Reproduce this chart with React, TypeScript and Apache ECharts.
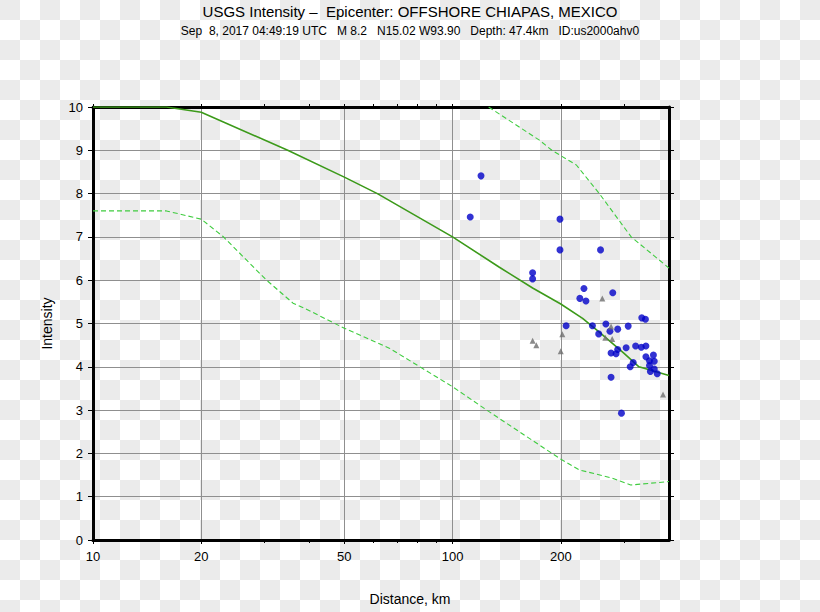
import React, { useEffect, useRef } from "react";
import * as echarts from "echarts";

const titleText = "USGS Intensity –  Epicenter: OFFSHORE CHIAPAS, MEXICO";
const subtitleText =
  "Sep  8, 2017 04:49:19 UTC   M 8.2   N15.02 W93.90   Depth: 47.4km   ID:us2000ahv0";
const xAxisTitle = "Distance, km";
const yAxisTitle = "Intensity";

const xMin = 10;
const xMax = 400;
const xMajorTicks = [10, 20, 50, 100, 200];
const xMinorTicks = [30, 40, 60, 70, 80, 90, 300];

// Median prediction (solid)
const medianDist = [10, 16, 20, 34.8, 50, 61.8, 100, 135, 167, 200, 230, 256, 300, 330, 400];
const medianInt = [10, 10, 9.88, 9.0, 8.38, 8.0, 7.0, 6.3, 5.82, 5.45, 5.12, 4.8, 4.31, 4.0, 3.8];

// Upper bound (dashed)
const upperDist = [126, 174, 189, 221, 256, 314, 400];
const upperInt = [10, 9.24, 9.0, 8.66, 8.0, 7.0, 6.28];

// Lower bound (dashed)
const lowerDist = [10, 16, 20, 23, 30.3, 36, 38.8, 50, 66.7, 100, 126, 198, 225, 278, 313, 400];
const lowerInt = [7.6, 7.6, 7.41, 7.01, 6.01, 5.47, 5.35, 4.89, 4.43, 3.54, 2.97, 1.89, 1.62, 1.43, 1.27, 1.35];

// Observed intensities (blue circles)
const obsDist = [
  120, 112, 199, 199, 258, 167, 167, 232, 226, 235, 279, 207, 245, 267, 288, 308, 274, 255, 336, 344,
  323, 335, 345, 304, 288, 276, 285, 345, 362, 353, 364, 318, 312, 353, 364, 355, 371, 276, 295,
];
const obsInt = [
  8.41, 7.46, 7.41, 6.7, 6.7, 6.17, 6.03, 5.81, 5.58, 5.52, 5.71, 4.95, 4.95, 4.99, 4.87, 4.94, 4.82,
  4.76, 5.13, 5.1, 4.48, 4.45, 4.48, 4.44, 4.4, 4.32, 4.3, 4.23, 4.27, 4.14, 4.13, 4.1, 4.0, 4.03, 3.95,
  3.89, 3.84, 3.76, 2.93,
];

// Other observations (grey triangles)
const triDist = [167, 171, 202, 200, 261, 276, 266, 278, 385];
const triInt = [4.6, 4.5, 4.75, 4.36, 5.58, 4.93, 4.67, 4.64, 3.36];

const FONT = "'Liberation Sans', Arial, Helvetica, sans-serif";

const zip = (a: number[], b: number[]) => a.map((v, i) => [v, b[i]]);

export default function App() {
  const ref = useRef<HTMLDivElement>(null);

  useEffect(() => {
    if (!ref.current) return;
    const chart = echarts.init(ref.current, null, { renderer: "svg" });
    const frame = { show: true, onZero: false, lineStyle: { color: "#000", width: 3 } };
    const option: any = {
      animation: false,
      backgroundColor: "transparent",
      textStyle: { fontFamily: FONT },
      title: [
        {
          text: titleText,
          left: "center",
          top: 4,
          padding: 0,
          textStyle: { fontSize: 15, fontWeight: "normal", color: "#000", fontFamily: FONT },
        },
        {
          text: subtitleText,
          left: "center",
          top: 25,
          padding: 0,
          textStyle: { fontSize: 12, fontWeight: "normal", color: "#000", fontFamily: FONT },
        },
        {
          text: xAxisTitle,
          left: "center",
          top: 592,
          padding: 0,
          textStyle: { fontSize: 14, fontWeight: "normal", color: "#000", fontFamily: FONT },
        },
      ],
      grid: { left: 93, right: 151, top: 107, bottom: 72, containLabel: false },
      xAxis: [
        {
          type: "log",
          logBase: 10,
          min: xMin,
          max: xMax,
          position: "bottom",
          axisLine: frame,
          axisTick: { show: true, customValues: xMajorTicks, length: 4, lineStyle: { color: "#000" } },
          axisLabel: {
            show: true,
            customValues: xMajorTicks,
            formatter: (v: number) => String(Math.round(v)),
            fontSize: 13,
            color: "#000",
            margin: 10,
            fontFamily: FONT,
          },
          splitLine: { show: true, lineStyle: { color: "#8f8f8f", width: 1 } },
          minorTick: { show: false },
          minorSplitLine: { show: false },
        },
        {
          type: "log",
          logBase: 10,
          min: xMin,
          max: xMax,
          position: "bottom",
          axisLine: { show: false },
          axisTick: { show: true, customValues: xMinorTicks, length: 3, lineStyle: { color: "#000" } },
          axisLabel: { show: false },
          splitLine: { show: false },
        },
        {
          type: "log",
          logBase: 10,
          min: xMin,
          max: xMax,
          position: "top",
          axisLine: frame,
          axisTick: {
            show: true,
            customValues: [...xMajorTicks, ...xMinorTicks],
            length: 3,
            lineStyle: { color: "#000" },
          },
          axisLabel: { show: false },
          splitLine: { show: false },
        },
      ],
      yAxis: [
        {
          type: "value",
          min: 0,
          max: 10,
          interval: 1,
          position: "left",
          name: yAxisTitle,
          nameLocation: "middle",
          nameGap: 39,
          nameTextStyle: { fontSize: 14, color: "#000", fontFamily: FONT },
          axisLine: frame,
          axisTick: { show: true, length: 5, lineStyle: { color: "#000" } },
          axisLabel: { fontSize: 13, color: "#000", margin: 10, fontFamily: FONT },
          splitLine: { show: true, lineStyle: { color: "#8f8f8f", width: 1 } },
        },
        {
          type: "value",
          min: 0,
          max: 10,
          interval: 1,
          position: "right",
          axisLine: frame,
          axisTick: { show: true, length: 5, lineStyle: { color: "#000" } },
          axisLabel: { show: false },
          splitLine: { show: false },
        },
      ],
      series: [
        {
          type: "line",
          xAxisIndex: 0,
          yAxisIndex: 0,
          data: zip(upperDist, upperInt),
          showSymbol: false,
          lineStyle: { color: "#3fcc3f", width: 1.1, type: [5, 3] },
          z: 2,
        },
        {
          type: "line",
          xAxisIndex: 0,
          yAxisIndex: 0,
          data: zip(lowerDist, lowerInt),
          showSymbol: false,
          lineStyle: { color: "#3fcc3f", width: 1.1, type: [5, 3] },
          z: 2,
        },
        {
          type: "line",
          xAxisIndex: 0,
          yAxisIndex: 0,
          data: zip(medianDist, medianInt),
          showSymbol: false,
          lineStyle: { color: "#3c9a1a", width: 1.6 },
          z: 3,
        },
        {
          type: "scatter",
          xAxisIndex: 0,
          yAxisIndex: 0,
          data: zip(obsDist, obsInt),
          symbol: "circle",
          symbolSize: 7,
          itemStyle: { color: "#0000c8" },
          z: 4,
        },
        {
          type: "scatter",
          xAxisIndex: 0,
          yAxisIndex: 0,
          data: zip(triDist, triInt),
          symbol: "triangle",
          symbolSize: 6,
          itemStyle: { color: "#6e6e6e" },
          z: 5,
        },
      ],
    };
    chart.setOption(option);
    return () => chart.dispose();
  }, []);

  return (
    <div
      ref={ref}
      style={{
        position: "absolute",
        left: 0,
        top: 0,
        width: 820,
        height: 612,
        backgroundColor: "#fff",
        backgroundImage:
          "conic-gradient(#fff 0 25%, #ebebeb 0 50%, #fff 0 75%, #ebebeb 0)",
        backgroundSize: "40px 40px",
      }}
    />
  );
}
